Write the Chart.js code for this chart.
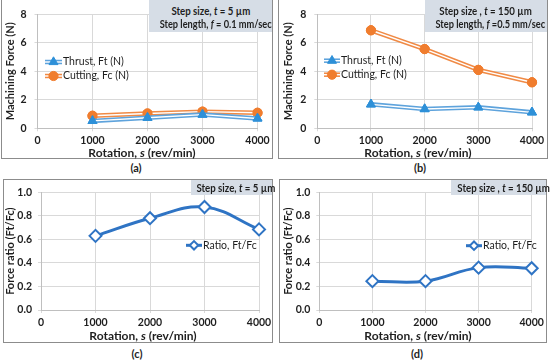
<!DOCTYPE html>
<html><head><meta charset="utf-8">
<script src="https://cdn.jsdelivr.net/npm/chart.js@4.4.1/dist/chart.umd.min.js"></script>
<style>
body{margin:0;width:550px;height:360px;overflow:hidden;background:#fff;position:relative;font-family:Lato,'Liberation Sans',sans-serif;color:#1e1e1e;}
.frame{position:absolute;border:1px solid #8c8c8c;box-sizing:border-box;}
canvas{position:absolute;}
.note{position:absolute;background:#d6dde6;font-weight:bold;font-size:11px;text-align:center;line-height:13px;box-sizing:border-box;z-index:2;white-space:nowrap;}
.note span{display:inline-block;transform:scaleX(0.88);transform-origin:50% 50%;}
.note span.w{transform:scaleX(0.84);}
.xt{position:absolute;font-weight:bold;font-size:12px;white-space:nowrap;transform:translate(-50%,-50%);z-index:2;}
.lbl{position:absolute;font-weight:bold;font-size:11px;transform:translate(-50%,-50%);}
</style></head>
<body>
<div class="frame" style="left:1px;top:-1px;width:272px;height:160px"></div>
<div class="frame" style="left:278px;top:-1px;width:270px;height:160px"></div>
<div class="frame" style="left:3px;top:179px;width:270px;height:164px"></div>
<div class="frame" style="left:279px;top:179px;width:268px;height:164px"></div>

<canvas id="ca" width="275" height="160" style="left:0;top:0"></canvas>
<canvas id="cb" width="272" height="160" style="left:278px;top:0"></canvas>
<canvas id="cc" width="275" height="162" style="left:0;top:180px"></canvas>
<canvas id="cd" width="272" height="162" style="left:278px;top:180px"></canvas>

<div class="note" style="left:149px;top:0;width:123px;height:32px;padding-top:4px"><span>Step size, <i>t</i> = 5 µm</span><br><span class="w">Step length, <i>f</i> = 0.1 mm/sec</span></div>
<div class="note" style="left:425px;top:0;width:122px;height:32px;padding-top:4px"><span>Step size , <i>t</i> = 150 µm</span><br><span class="w">Step length, <i>f</i> =0.5 mm/sec</span></div>
<div class="note" style="left:191px;top:180px;width:81px;height:15px;padding-top:1px"><span>Step size, <i>t</i> = 5 µm</span></div>
<div class="note" style="left:451px;top:180px;width:95px;height:15px;padding-top:1px"><span>Step size , <i>t</i> = 150 µm</span></div>

<div class="xt" style="left:142px;top:152px">Rotation, <i>s</i> (rev/min)</div>
<div class="xt" style="left:418px;top:152px">Rotation, <i>s</i> (rev/min)</div>
<div class="xt" style="left:143px;top:335px">Rotation, <i>s</i> (rev/min)</div>
<div class="xt" style="left:418px;top:335px">Rotation, <i>s</i> (rev/min)</div>

<div class="lbl" style="left:136px;top:167px">(a)</div>
<div class="lbl" style="left:420px;top:167px">(b)</div>
<div class="lbl" style="left:137px;top:353px">(c)</div>
<div class="lbl" style="left:417px;top:353px">(d)</div>

<script>
// ---- data ----
const rotation = [1000, 2000, 3000, 4000];
const thrustA  = [0.52, 0.74, 0.96, 0.69];
const cuttingA = [0.88, 1.04, 1.17, 1.09];
const thrustB  = [1.68, 1.35, 1.47, 1.12];
const cuttingB = [6.88, 5.56, 4.10, 3.23];
const ratioC   = [0.63, 0.78, 0.875, 0.685];
const ratioD   = [0.245, 0.245, 0.36, 0.355];
const rotationRange = [0, 4000, 1000];   // min, max, step
const forceRange    = [0, 8, 2];
const ratioRange    = [0, 1, 0.2];
const seriesNames = ['Thrust, Ft (N)', 'Cutting, Fc (N)', 'Ratio, Ft/Fc'];

const pts = ys => rotation.map((x, i) => ({x, y: ys[i]}));
const FONT = 'Lato, "Liberation Sans", sans-serif';
const TXT = '#1e1e1e';

// draw the white core of Excel's "double" line and re-draw markers above it
const doubleLine = {
  id: 'doubleLine',
  afterDatasetDraw(chart, args) {
    const ds = chart.data.datasets[args.index];
    if (!ds.innerColor) return;
    const ctx = chart.ctx, data = args.meta.data;
    ctx.save();
    ctx.strokeStyle = ds.innerColor; ctx.lineWidth = ds.innerWidth; ctx.lineJoin = 'round';
    ctx.beginPath();
    data.forEach((p, i) => i ? ctx.lineTo(p.x, p.y) : ctx.moveTo(p.x, p.y));
    ctx.stroke();
    ctx.restore();
    data.forEach(p => p.draw(ctx, chart.chartArea));
  }
};

function marker(ctx, style, r, x, y) {
  ctx.beginPath();
  if (style === 'triangle') {
    for (let k = 0; k < 3; k++) {
      const a = k * 2 * Math.PI / 3;
      const px = x + Math.sin(a) * r, py = y - Math.cos(a) * r;
      k ? ctx.lineTo(px, py) : ctx.moveTo(px, py);
    }
    ctx.closePath();
  } else if (style === 'rectRot') {
    const d = r * Math.SQRT1_2;
    ctx.moveTo(x - d, y); ctx.lineTo(x, y + d); ctx.lineTo(x + d, y); ctx.lineTo(x, y - d); ctx.closePath();
  } else {
    ctx.arc(x, y, r, 0, Math.PI * 2);
  }
  ctx.fill(); ctx.stroke();
}

const xlLegend = {
  id: 'xlLegend',
  afterDraw(chart, args, o) {
    const ctx = chart.ctx;
    ctx.save();
    chart.data.datasets.forEach((ds, i) => {
      const y = o.y + i * o.rowGap, x0 = o.x, x1 = o.x + o.lineLen;
      ctx.strokeStyle = ds.borderColor; ctx.lineWidth = ds.borderWidth;
      ctx.beginPath(); ctx.moveTo(x0, y); ctx.lineTo(x1, y); ctx.stroke();
      if (ds.innerColor) {
        ctx.strokeStyle = ds.innerColor; ctx.lineWidth = ds.innerWidth;
        ctx.beginPath(); ctx.moveTo(x0, y); ctx.lineTo(x1, y); ctx.stroke();
      }
      ctx.fillStyle = ds.pointBackgroundColor; ctx.strokeStyle = ds.pointBorderColor; ctx.lineWidth = ds.pointBorderWidth;
      marker(ctx, ds.pointStyle, ds.pointRadius, (x0 + x1) / 2, y);
      ctx.fillStyle = TXT; ctx.font = '10.5px ' + FONT; ctx.textBaseline = 'middle'; ctx.textAlign = 'left';
      ctx.fillText(ds.label, x1 + 1, y);
    });
    ctx.restore();
  }
};

function thrust(ys) {
  return {label: seriesNames[0], data: pts(ys), borderColor: '#5ea3dc', borderWidth: 4.5,
    innerColor: '#ffffff', innerWidth: 1.4, pointStyle: 'triangle', pointRadius: 5.2,
    pointBackgroundColor: '#2e90d8', pointBorderColor: '#2e90d8', pointBorderWidth: 1, tension: 0, clip: false};
}
function cutting(ys) {
  return {label: seriesNames[1], data: pts(ys), borderColor: '#f08a45', borderWidth: 4.5,
    innerColor: '#ffffff', innerWidth: 1.4, pointStyle: 'circle', pointRadius: 4.6,
    pointBackgroundColor: '#f07d2e', pointBorderColor: '#f07d2e', pointBorderWidth: 1, tension: 0, clip: false};
}
function ratio(ys) {
  return {label: seriesNames[2], data: pts(ys), borderColor: '#2f74c4', borderWidth: 3,
    pointStyle: 'rectRot', pointRadius: 6, pointBackgroundColor: '#ffffff',
    pointBorderColor: '#2f74c4', pointBorderWidth: 2, tension: 0.4, clip: false};
}

function makeChart(id, datasets, yRange, yTitle, geo, legendPos, decimals) {
  new Chart(document.getElementById(id), {
    type: 'line',
    data: {datasets},
    plugins: [doubleLine, xlLegend],
    options: {
      responsive: false, animation: false, devicePixelRatio: 1,
      layout: {padding: {left: 0, top: geo.top, right: geo.right, bottom: 0}},
      plugins: {legend: {display: false}, tooltip: {enabled: false}, xlLegend: legendPos},
      scales: {
        x: {type: 'linear', min: rotationRange[0], max: rotationRange[1],
          afterFit: s => { s.height = geo.xh; },
          ticks: {stepSize: rotationRange[2], color: TXT, padding: 3, font: {family: FONT, size: 10.5, weight: 'bold'},
            callback: v => String(v)},
          grid: {color: '#d9d9d9', tickLength: 3, drawTicks: true},
          border: {color: '#bfbfbf'}},
        y: {min: yRange[0], max: yRange[1],
          afterFit: s => { s.width = geo.yw; },
          ticks: {stepSize: yRange[2], color: TXT, padding: geo.tp, font: {family: FONT, size: 10.5, weight: 'bold'},
            callback: v => v.toFixed(decimals)},
          grid: {color: '#d9d9d9', tickLength: 3, drawTicks: true},
          border: {color: '#bfbfbf'},
          title: {display: true, text: yTitle, color: TXT, padding: {top: 4, bottom: 0},
            font: {family: FONT, size: 11, weight: 'bold'}}}
      }
    }
  });
}

makeChart('ca', [thrust(thrustA), cutting(cuttingA)], forceRange, 'Machining Force (N)',
  {top: 9, right: 17.5, xh: 31.7, yw: 37.5, tp: 8}, {x: 45, y: 62, rowGap: 14, lineLen: 17}, 0);
makeChart('cb', [thrust(thrustB), cutting(cuttingB)], forceRange, 'Machining Force (N)',
  {top: 9, right: 18, xh: 31.7, yw: 39.3, tp: 8}, {x: 46, y: 60.7, rowGap: 14, lineLen: 16}, 0);
makeChart('cc', [ratio(ratioC)], ratioRange, 'Force ratio (Ft/Fc)',
  {top: 6.5, right: 16, xh: 32, yw: 41, tp: 6}, {x: 186, y: 65.3, rowGap: 14, lineLen: 16}, 1);
makeChart('cd', [ratio(ratioD)], ratioRange, 'Force ratio (Ft/Fc)',
  {top: 6, right: 18.3, xh: 32, yw: 41.3, tp: 6}, {x: 188, y: 65.7, rowGap: 14, lineLen: 16}, 1);
</script>
</body></html>
